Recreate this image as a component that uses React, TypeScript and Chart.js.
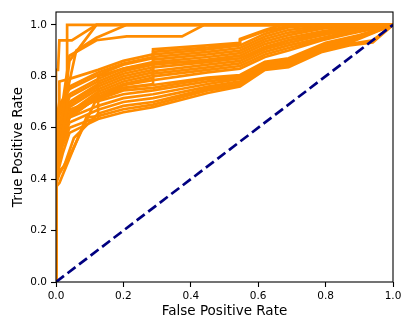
import { useEffect, useRef } from "react";
import { Chart, registerables } from "chart.js";

Chart.register(...registerables);

const xTicks = [0, 0.2, 0.4, 0.6, 0.8, 1.0];
const yTicks = [0, 0.2, 0.4, 0.6, 0.8, 1.0];
const xTitle = "False Positive Rate";
const yTitle = "True Positive Rate";

const chanceLine = [[0, 0], [1, 1]];

const topCurves = [
  [[0, 0], [0, 0.45], [0.033, 0.68], [0.033, 1.0], [1, 1]],
  [[0, 0], [0, 0.825], [0.006, 0.825], [0.01, 0.94], [0.047, 0.94], [0.12, 1.0], [1, 1]],
  [[0, 0], [0, 0.6], [0.02, 0.7], [0.04, 0.88], [0.12, 0.94], [0.21, 0.955], [0.374, 0.955], [0.44, 1.0], [1, 1]],
  [[0, 0], [0, 0.55], [0.04, 0.78], [0.06, 0.9], [0.12, 0.95], [0.21, 1.0], [1, 1]],
  [[0, 0], [0, 0.5], [0.03, 0.75], [0.04, 0.86], [0.12, 1.0], [1, 1]],
];

const upperCurves = [
  [[0, 0], [0, 0.62], [0.01, 0.7], [0.01, 0.78], [0.04, 0.79], [0.125, 0.825], [0.2, 0.86], [0.288, 0.885], [0.288, 0.905], [0.45, 0.92], [0.546, 0.93], [0.546, 0.945], [0.62, 0.98], [0.67, 1.0], [1, 1]],
  [[0, 0], [0, 0.6], [0.02, 0.7], [0.04, 0.76], [0.125, 0.815], [0.2, 0.85], [0.288, 0.875], [0.288, 0.895], [0.45, 0.912], [0.546, 0.925], [0.546, 0.94], [0.62, 0.975], [0.69, 0.995], [0.79, 1], [1, 1]],
  [[0, 0], [0, 0.58], [0.015, 0.7], [0.04, 0.75], [0.125, 0.805], [0.2, 0.845], [0.288, 0.87], [0.288, 0.885], [0.45, 0.905], [0.546, 0.92], [0.62, 0.965], [0.69, 0.99], [0.79, 1], [1, 1]],
  [[0, 0], [0, 0.56], [0.02, 0.66], [0.04, 0.73], [0.125, 0.79], [0.2, 0.83], [0.288, 0.855], [0.288, 0.875], [0.45, 0.895], [0.546, 0.91], [0.62, 0.955], [0.69, 0.98], [0.79, 0.995], [0.87, 1], [1, 1]],
  [[0, 0], [0, 0.54], [0.02, 0.64], [0.04, 0.72], [0.125, 0.78], [0.2, 0.82], [0.288, 0.845], [0.288, 0.865], [0.45, 0.885], [0.546, 0.9], [0.62, 0.945], [0.69, 0.97], [0.79, 0.99], [0.87, 1], [1, 1]],
  [[0, 0], [0, 0.52], [0.02, 0.63], [0.04, 0.7], [0.125, 0.77], [0.2, 0.81], [0.288, 0.835], [0.288, 0.855], [0.45, 0.875], [0.546, 0.89], [0.62, 0.935], [0.69, 0.96], [0.79, 0.985], [0.87, 0.995], [1, 1]],
  [[0, 0], [0, 0.5], [0.02, 0.61], [0.04, 0.69], [0.125, 0.76], [0.2, 0.8], [0.288, 0.825], [0.288, 0.845], [0.45, 0.865], [0.546, 0.88], [0.62, 0.925], [0.69, 0.95], [0.79, 0.975], [0.87, 0.99], [1, 1]],
  [[0, 0], [0, 0.48], [0.02, 0.6], [0.04, 0.68], [0.125, 0.75], [0.2, 0.79], [0.288, 0.815], [0.288, 0.835], [0.45, 0.855], [0.546, 0.87], [0.62, 0.915], [0.69, 0.94], [0.79, 0.97], [0.87, 0.985], [1, 1]],
  [[0, 0], [0, 0.47], [0.02, 0.58], [0.04, 0.66], [0.125, 0.74], [0.2, 0.78], [0.288, 0.805], [0.288, 0.82], [0.45, 0.845], [0.546, 0.86], [0.62, 0.905], [0.69, 0.93], [0.79, 0.96], [0.87, 0.98], [1, 1]],
  [[0, 0], [0, 0.46], [0.02, 0.57], [0.04, 0.65], [0.125, 0.73], [0.2, 0.77], [0.288, 0.795], [0.288, 0.81], [0.45, 0.835], [0.546, 0.85], [0.62, 0.895], [0.69, 0.92], [0.79, 0.95], [0.87, 0.975], [1, 1]],
  [[0, 0], [0, 0.44], [0.02, 0.56], [0.04, 0.64], [0.125, 0.72], [0.2, 0.765], [0.288, 0.785], [0.288, 0.8], [0.45, 0.825], [0.546, 0.84], [0.62, 0.885], [0.69, 0.91], [0.79, 0.945], [0.87, 0.97], [1, 1]],
  [[0, 0], [0, 0.55], [0.02, 0.62], [0.04, 0.67], [0.125, 0.71], [0.2, 0.755], [0.288, 0.77], [0.288, 0.785], [0.45, 0.815], [0.546, 0.83], [0.62, 0.875], [0.69, 0.9], [0.79, 0.94], [0.87, 0.965], [1, 1]],
  [[0, 0], [0, 0.43], [0.02, 0.53], [0.04, 0.6], [0.1, 0.63], [0.125, 0.635], [0.125, 0.8], [0.2, 0.83], [0.288, 0.85], [0.45, 0.86], [0.546, 0.87], [0.62, 0.91], [0.69, 0.94], [0.79, 0.965], [0.87, 0.98], [1, 1]],
];

const lowerCurves = [
  [[0, 0], [0, 0.4], [0.02, 0.5], [0.04, 0.58], [0.125, 0.634], [0.2, 0.66], [0.288, 0.68], [0.45, 0.735], [0.546, 0.76], [0.62, 0.825], [0.69, 0.835], [0.79, 0.895], [0.87, 0.92], [0.94, 0.932], [1, 1]],
  [[0, 0], [0, 0.37], [0.01, 0.385], [0.09, 0.64], [0.125, 0.645], [0.2, 0.672], [0.288, 0.69], [0.45, 0.745], [0.546, 0.765], [0.62, 0.83], [0.69, 0.84], [0.79, 0.9], [0.87, 0.925], [0.94, 0.94], [1, 1]],
  [[0, 0], [0, 0.42], [0.024, 0.45], [0.053, 0.56], [0.125, 0.655], [0.2, 0.685], [0.288, 0.7], [0.45, 0.752], [0.546, 0.772], [0.62, 0.835], [0.69, 0.848], [0.79, 0.905], [0.87, 0.93], [1, 1]],
  [[0, 0], [0, 0.45], [0.02, 0.55], [0.04, 0.62], [0.125, 0.67], [0.2, 0.7], [0.288, 0.715], [0.45, 0.76], [0.546, 0.78], [0.62, 0.84], [0.69, 0.853], [0.79, 0.91], [0.87, 0.935], [1, 1]],
  [[0, 0], [0, 0.5], [0.02, 0.58], [0.04, 0.64], [0.125, 0.685], [0.2, 0.715], [0.288, 0.73], [0.45, 0.77], [0.546, 0.79], [0.62, 0.845], [0.69, 0.858], [0.79, 0.915], [0.87, 0.94], [1, 1]],
  [[0, 0], [0, 0.38], [0.01, 0.42], [0.048, 0.51], [0.116, 0.7], [0.2, 0.73], [0.288, 0.745], [0.45, 0.78], [0.546, 0.795], [0.62, 0.85], [0.69, 0.862], [0.8, 0.92], [0.9, 0.95], [1, 1]],
  [[0, 0], [0, 0.52], [0.02, 0.6], [0.04, 0.66], [0.125, 0.71], [0.2, 0.745], [0.288, 0.755], [0.45, 0.79], [0.546, 0.8], [0.62, 0.853], [0.69, 0.866], [0.8, 0.925], [0.9, 0.955], [1, 1]],
  [[0, 0], [0, 0.46], [0.02, 0.56], [0.04, 0.64], [0.125, 0.72], [0.2, 0.755], [0.288, 0.766], [0.45, 0.795], [0.546, 0.805], [0.62, 0.856], [0.69, 0.87], [0.8, 0.93], [0.9, 0.96], [1, 1]],
];

const ORANGE = "#ff8c00";
const NAVY = "#000080";
const FONT = "'DejaVu Sans', sans-serif";

const toPts = (c: number[][]) => c.map(([x, y]) => ({ x, y }));

const framePlugin = {
  id: "frame",
  afterDatasetsDraw(chart: any) {
    const { ctx, chartArea: a } = chart;
    ctx.save();
    ctx.strokeStyle = "#000";
    ctx.lineWidth = 1.1;
    ctx.strokeRect(a.left, a.top, a.right - a.left, a.bottom - a.top);
    ctx.restore();
  },
};

export default function App() {
  const ref = useRef<HTMLCanvasElement | null>(null);
  useEffect(() => {
    if (!ref.current) return;
    const orange = [...topCurves, ...upperCurves, ...lowerCurves].map((c) => ({
      data: toPts(c),
      showLine: true,
      borderColor: ORANGE,
      backgroundColor: ORANGE,
      borderWidth: 2.7,
      pointRadius: 0,
      tension: 0,
      clip: 0,
    }));
    const chart = new Chart(ref.current, {
      type: "scatter",
      data: {
        datasets: [
          {
            data: toPts(chanceLine),
            showLine: true,
            borderColor: NAVY,
            backgroundColor: NAVY,
            borderWidth: 2.7,
            borderDash: [10, 4.5],
            pointRadius: 0,
            clip: 0,
          } as any,
          ...orange,
        ],
      },
      options: {
        animation: false,
        responsive: false,
        layout: { padding: { top: 12, right: 22, left: 0, bottom: 0 } },
        plugins: { legend: { display: false }, tooltip: { enabled: false } },
        scales: {
          x: {
            type: "linear",
            min: 0,
            max: 1,
            afterBuildTicks: (s: any) => {
              s.ticks = xTicks.map((v) => ({ value: v }));
            },
            afterFit: (s: any) => {
              s.height = 50;
            },
            ticks: {
              callback: (v: any) => Number(v).toFixed(1),
              font: { family: FONT, size: 10.5 },
              color: "#000",
              padding: 3,
              maxRotation: 0,
            },
            grid: { drawOnChartArea: false, drawTicks: true, tickLength: 5, tickColor: "#000", tickWidth: 1.1 },
            border: { display: false },
            title: {
              display: true,
              text: xTitle,
              font: { family: FONT, size: 13.5 },
              color: "#000",
              padding: { top: 0, bottom: 12 },
            },
          },
          y: {
            type: "linear",
            min: 0,
            max: 1.05,
            afterBuildTicks: (s: any) => {
              s.ticks = yTicks.map((v) => ({ value: v }));
            },
            afterFit: (s: any) => {
              s.width = 56;
            },
            ticks: {
              callback: (v: any) => Number(v).toFixed(1),
              font: { family: FONT, size: 10.5 },
              color: "#000",
              padding: 4,
            },
            grid: { drawOnChartArea: false, drawTicks: true, tickLength: 5, tickColor: "#000", tickWidth: 1.1 },
            border: { display: false },
            title: {
              display: true,
              text: yTitle,
              font: { family: FONT, size: 13.5 },
              color: "#000",
              padding: { top: 10, bottom: 0 },
            },
          },
        },
      },
      plugins: [framePlugin],
    } as any);
    return () => chart.destroy();
  }, []);
  return (
    <div style={{ position: "fixed", left: 0, top: 0, width: 415, height: 332, background: "#fff" }}>
      <canvas ref={ref} width={415} height={332} />
    </div>
  );
}
